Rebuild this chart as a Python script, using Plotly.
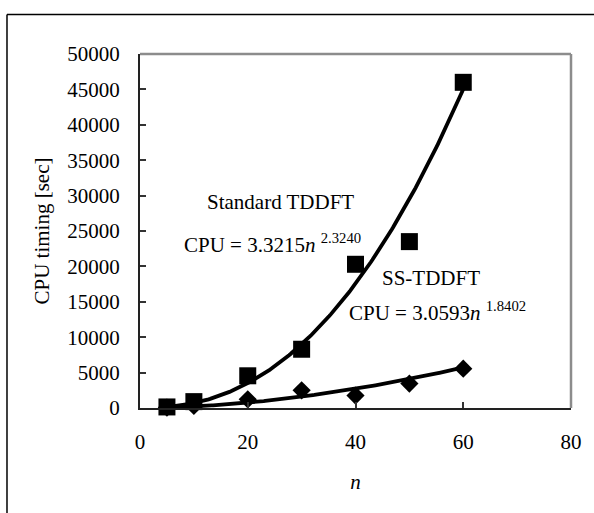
import numpy as np
import plotly.graph_objects as go

# ---- data ----
n_values = [5, 10, 20, 30, 40, 50, 60]
standard_cpu = [150, 900, 4550, 8300, 20300, 23500, 46000]
ss_cpu = [60, 280, 1230, 2500, 1750, 3450, 5550]

# power-law fits shown on the chart: CPU = a * n^b
standard_fit = (3.3215, 2.3240)
ss_fit = (3.0593, 1.8402)

x_ticks = [0, 20, 40, 60, 80]
y_ticks = [0, 5000, 10000, 15000, 20000, 25000, 30000, 35000, 40000, 45000, 50000]

FONT = "Liberation Serif"

n_grid = np.linspace(min(n_values), max(n_values), 200)

fig = go.Figure()

fig.add_trace(go.Scatter(
    x=n_values, y=ss_cpu, mode="markers",
    marker=dict(symbol="diamond", size=14, color="black"),
    showlegend=False, cliponaxis=False))
fig.add_trace(go.Scatter(
    x=n_values, y=standard_cpu, mode="markers",
    marker=dict(symbol="square", size=17, color="black"),
    showlegend=False, cliponaxis=False))
fig.add_trace(go.Scatter(
    x=n_grid, y=standard_fit[0] * n_grid ** standard_fit[1], mode="lines",
    line=dict(color="black", width=3.8), showlegend=False))
fig.add_trace(go.Scatter(
    x=n_grid, y=ss_fit[0] * n_grid ** ss_fit[1], mode="lines",
    line=dict(color="black", width=3.8), showlegend=False))

annot_font = dict(family=FONT, size=21, color="black")
fig.add_annotation(x=26.0, y=29100, xref="x", yref="y", text="Standard TDDFT",
                   showarrow=False, font=annot_font, xanchor="center", yanchor="middle")
fig.add_annotation(x=7.8, y=23300, xref="x", yref="y",
                   text="CPU = %.4f<i>n</i> <sup>%.4f</sup>" % standard_fit,
                   showarrow=False, font=annot_font, xanchor="left", yanchor="middle")
fig.add_annotation(x=54.0, y=18350, xref="x", yref="y", text="SS-TDDFT",
                   showarrow=False, font=annot_font, xanchor="center", yanchor="middle")
fig.add_annotation(x=38.5, y=13700, xref="x", yref="y",
                   text="CPU = %.4f<i>n</i> <sup>%.4f</sup>" % ss_fit,
                   showarrow=False, font=annot_font, xanchor="left", yanchor="middle")

# gray top/right frame of plot area
fig.add_shape(type="line", xref="paper", yref="paper", x0=0, y0=1, x1=1, y1=1,
              line=dict(color="#8c8c8c", width=2.5))
fig.add_shape(type="line", xref="paper", yref="paper", x0=1, y0=0, x1=1, y1=1,
              line=dict(color="#8c8c8c", width=2.5))
# outer chart border (top and left visible)
fig.add_shape(type="line", xref="paper", yref="paper", x0=-0.3086, y0=1.1113, x1=1.2, y1=1.1113,
              line=dict(color="black", width=1.5))
fig.add_shape(type="line", xref="paper", yref="paper", x0=-0.3086, y0=1.1113, x1=-0.3086, y1=-0.4,
              line=dict(color="black", width=1.5))

fig.update_xaxes(
    range=[0, 80], tickvals=x_ticks, ticktext=[str(v) for v in x_ticks],
    ticks="inside", ticklen=6, tickwidth=1.5, tickcolor="#333",
    showline=True, linecolor="#222", linewidth=2, showgrid=False, zeroline=False,
    tickfont=dict(family=FONT, size=21, color="black"), ticklabelstandoff=14,
    title=dict(text="<i>n</i>", font=dict(family=FONT, size=21, color="black"), standoff=21))
fig.update_yaxes(
    range=[0, 50000], tickvals=y_ticks, ticktext=[str(v) for v in y_ticks],
    ticks="inside", ticklen=6, tickwidth=1.5, tickcolor="#333",
    showline=True, linecolor="#222", linewidth=2, showgrid=False, zeroline=False,
    tickfont=dict(family=FONT, size=21, color="black"), ticklabelstandoff=14,
    title=dict(text="CPU timing [sec]", font=dict(family=FONT, size=21, color="black"), standoff=12))

fig.update_layout(
    width=594, height=513,
    margin=dict(l=140, r=23, t=54, b=105),
    paper_bgcolor="white", plot_bgcolor="white",
    font=dict(family=FONT, color="black"),
)

fig.write_html("out.html", config={"displayModeBar": False},
               post_script="document.body.style.margin='0';document.body.style.padding='0';")
